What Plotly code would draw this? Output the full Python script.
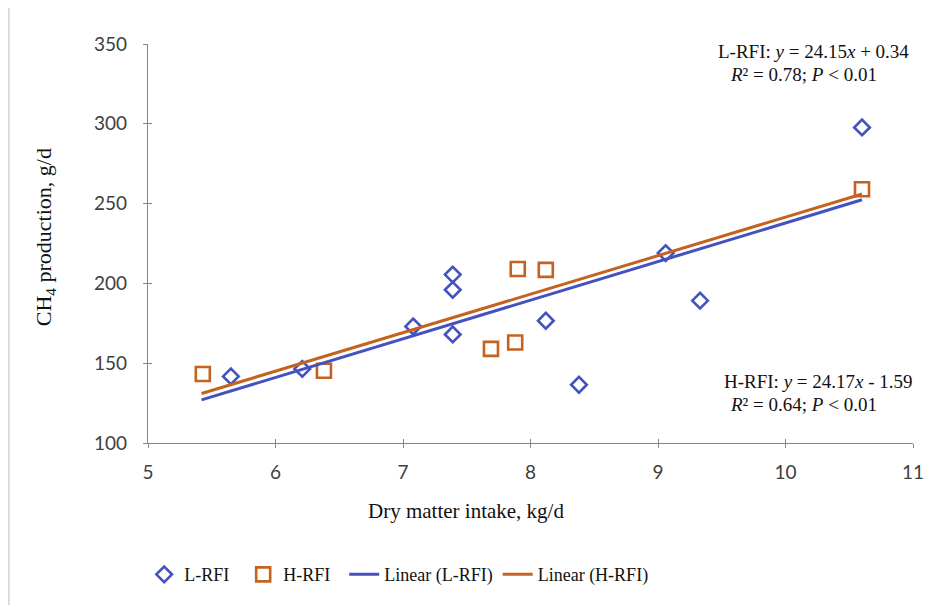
import plotly.graph_objects as go

# ---- data ----
l_rfi_dmi = [5.65, 6.21, 7.08, 7.39, 7.39, 7.39, 8.12, 8.38, 9.06, 9.33, 10.60]
l_rfi_ch4 = [141.7, 146.4, 173.0, 205.5, 196.0, 168.0, 176.6, 136.5, 219.0, 189.2, 297.7]

h_rfi_dmi = [5.43, 6.38, 7.69, 7.88, 7.90, 8.12, 10.60]
h_rfi_ch4 = [143.2, 145.3, 159.0, 163.0, 209.0, 208.5, 259.0]

lin_l_x = [5.42, 10.60]
lin_l_y = [127.0, 252.4]
lin_h_x = [5.42, 10.60]
lin_h_y = [131.0, 256.0]

x_ticks = [5, 6, 7, 8, 9, 10, 11]
y_ticks = [100, 150, 200, 250, 300, 350]

series_names = ["L-RFI", "H-RFI", "Linear (L-RFI)", "Linear (H-RFI)"]

BLUE = "#4452BF"
ORANGE = "#C6621F"
AXIS = "#868686"
TICKFONT = dict(family="Lato, Open Sans, sans-serif", size=19, color="#404040")
SERIF = "Liberation Serif, Times New Roman, serif"
NB = "\u00a0"  # non-breaking padding to widen legend entries like the reference

fig = go.Figure()
fig.add_trace(go.Scatter(
    x=l_rfi_dmi, y=l_rfi_ch4, mode="markers", name=series_names[0] + NB * 2,
    marker=dict(symbol="diamond-open", size=12, color=BLUE, line=dict(width=2.6, color=BLUE))))
fig.add_trace(go.Scatter(
    x=h_rfi_dmi, y=h_rfi_ch4, mode="markers", name=series_names[1] + NB * 2,
    marker=dict(symbol="square-open", size=14, color=ORANGE, line=dict(width=2.6, color=ORANGE))))
fig.add_trace(go.Scatter(
    x=lin_l_x, y=lin_l_y, mode="lines", name=series_names[2],
    line=dict(color=BLUE, width=3)))
fig.add_trace(go.Scatter(
    x=lin_h_x, y=lin_h_y, mode="lines", name=series_names[3],
    line=dict(color=ORANGE, width=3)))
# empty trace so overlay axes (inside tick halves) render
fig.add_trace(go.Scatter(x=[], y=[], xaxis="x2", yaxis="y2", showlegend=False, hoverinfo="skip"))

# note: page body has an 8px default margin, so margins are offset by 8px
fig.update_layout(
    width=941, height=605,
    margin=dict(l=140, r=36, t=36, b=170),
    paper_bgcolor="white", plot_bgcolor="white",
    showlegend=True,
    legend=dict(orientation="h", x=-0.005, xanchor="left", y=-0.330, yanchor="middle",
                font=dict(family=SERIF, size=18, color="#111111"),
                itemwidth=30, tracegroupgap=0),
    xaxis=dict(range=[5, 11], tickvals=x_ticks, ticks="outside", ticklen=4, tickcolor=AXIS,
               showline=True, linecolor=AXIS, linewidth=1.2, showgrid=False, zeroline=False,
               tickfont=TICKFONT, ticklabelstandoff=8),
    yaxis=dict(range=[100, 350], tickvals=y_ticks, ticks="outside", ticklen=4, tickcolor=AXIS,
               showline=True, linecolor=AXIS, linewidth=1.2, showgrid=False, zeroline=False,
               tickfont=TICKFONT, ticklabelstandoff=12),
    xaxis2=dict(overlaying="x", matches="x", anchor="y2", ticks="inside", ticklen=4,
                tickcolor=AXIS, tickvals=x_ticks, showticklabels=False, showline=False,
                showgrid=False, zeroline=False),
    yaxis2=dict(overlaying="y", matches="y", anchor="x2", ticks="inside", ticklen=4,
                tickcolor=AXIS, tickvals=y_ticks, showticklabels=False, showline=False,
                showgrid=False, zeroline=False),
)

ann_font = dict(family=SERIF, size=19, color="#111111")
annotations = [
    dict(text="Dry matter intake, kg/d", x=0.416, y=-0.17, font=dict(family=SERIF, size=21, color="#111111"),
         xanchor="center", yanchor="middle"),
    dict(text="CH<sub>4</sub> production, g/d", x=-0.135, y=0.515, textangle=-90,
         font=dict(family=SERIF, size=22, color="#111111"), xanchor="center", yanchor="middle"),
    dict(text="L-RFI: <i>y</i> = 24.15<i>x</i> + 0.34", x=0.743, y=0.981, font=ann_font,
         xanchor="left", yanchor="middle"),
    dict(text="<i>R</i>² = 0.78; <i>P</i> &lt; 0.01", x=0.758, y=0.923, font=ann_font,
         xanchor="left", yanchor="middle"),
    dict(text="H-RFI: <i>y</i> = 24.17<i>x</i> - 1.59", x=0.750, y=0.154, font=ann_font,
         xanchor="left", yanchor="middle"),
    dict(text="<i>R</i>² = 0.64; <i>P</i> &lt; 0.01", x=0.758, y=0.096, font=ann_font,
         xanchor="left", yanchor="middle"),
]
for a in annotations:
    a.update(xref="paper", yref="paper", showarrow=False)
    fig.add_annotation(**a)

# light frame (left and top edges visible in reference)
fig.add_shape(type="line", xref="paper", yref="paper", x0=-0.182, x1=-0.182, y0=-0.42, y1=1.0935,
              line=dict(color="#D9D9D9", width=2))
fig.add_shape(type="line", xref="paper", yref="paper", x0=-0.182, x1=1.04, y0=1.0935, y1=1.0935,
              line=dict(color="#D9D9D9", width=2))

fig.write_html("out.html")
